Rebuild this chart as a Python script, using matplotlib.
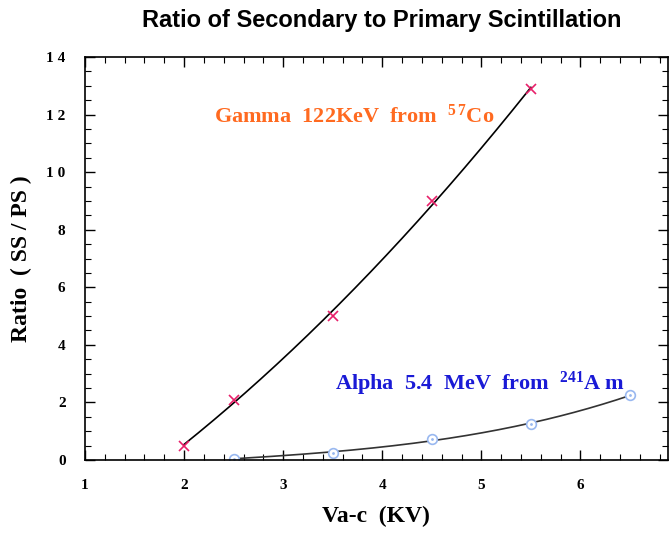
import numpy as np
import matplotlib.pyplot as plt
from matplotlib.ticker import MultipleLocator, FuncFormatter

plt.rcParams['mathtext.fontset'] = 'custom'
plt.rcParams['mathtext.rm'] = 'Liberation Serif:bold'
plt.rcParams['mathtext.it'] = 'Liberation Serif:bold'
plt.rcParams['mathtext.bf'] = 'Liberation Serif:bold'

# gamma source (57Co, 122 keV)
gamma_v = [2.0, 2.5, 3.5, 4.5, 5.5]
gamma_ratio = [0.5, 2.1, 5.0, 9.0, 12.9]

# alpha source (241Am, 5.4 MeV)
alpha_v = [2.5, 3.5, 4.5, 5.5, 6.5]
alpha_ratio = [0.05, 0.25, 0.72, 1.25, 2.25]

serif = 'Liberation Serif'

fig = plt.figure(figsize=(6.69, 5.33), dpi=100)
ax = fig.add_axes([0.127, 0.137, 0.871, 0.756])

# smooth fitted curves through each set
g_fit = np.polyfit(gamma_v, gamma_ratio, 2)
gx = np.linspace(min(gamma_v), max(gamma_v), 200)
ax.plot(gx, np.polyval(g_fit, gx), color='black', lw=1.2)

a_fit = np.polyfit(alpha_v, alpha_ratio, 3)
axx = np.linspace(min(alpha_v), max(alpha_v), 200)
ax.plot(axx, np.clip(np.polyval(a_fit, axx), 0, None), color='#333333', lw=1.2)

ax.plot(gamma_v, gamma_ratio, 'x', color='#e8206a', ms=7, mew=1.2)
ax.plot(alpha_v, alpha_ratio, 'o', mfc='white', mec='#99b8f0', ms=7, mew=1.2)
ax.plot(alpha_v, alpha_ratio, '.', color='#99b8f0', ms=2)

ax.text(2.3, 11.7, r'Gamma  122KeV  from  $^{5\,7}$Co', color='#ff6a20',
        fontfamily=serif, fontweight='bold', fontsize=16)
ax.text(3.52, 2.45, r'Alpha  5.4  MeV  from  $^{241}$A m', color='#1a1ad6',
        fontfamily=serif, fontweight='bold', fontsize=16)

ax.set_xlim(1, 6.88)
ax.set_ylim(0, 14)
ax.xaxis.set_major_locator(MultipleLocator(1))
ax.xaxis.set_minor_locator(MultipleLocator(0.2))
ax.yaxis.set_major_locator(MultipleLocator(2))
ax.yaxis.set_minor_locator(MultipleLocator(0.5))
ax.yaxis.set_major_formatter(FuncFormatter(lambda v, p: ' '.join(str(int(v)))))
ax.tick_params(which='both', direction='in', top=True, right=True)
ax.tick_params(which='major', length=7, width=1)
ax.tick_params(which='minor', length=4, width=0.8)
ax.tick_params(axis='x', pad=14)
ax.tick_params(axis='y', pad=14)
for lab in ax.get_xticklabels() + ax.get_yticklabels():
    lab.set_fontfamily(serif)
    lab.set_fontweight('bold')
    lab.set_fontsize(11)
for s in ax.spines.values():
    s.set_linewidth(1.2)

ax.set_xlabel('Va-c  (KV)', fontfamily=serif, fontweight='bold', fontsize=17, labelpad=10)
ax.set_ylabel('Ratio  ( SS / PS )', fontfamily=serif, fontweight='bold', fontsize=17, labelpad=10)

fig.text(0.571, 0.962, 'Ratio of Secondary to Primary Scintillation', ha='center', va='center',
         fontfamily='Liberation Sans', fontweight='bold', fontsize=17)

fig.savefig('out.png', dpi=100)
